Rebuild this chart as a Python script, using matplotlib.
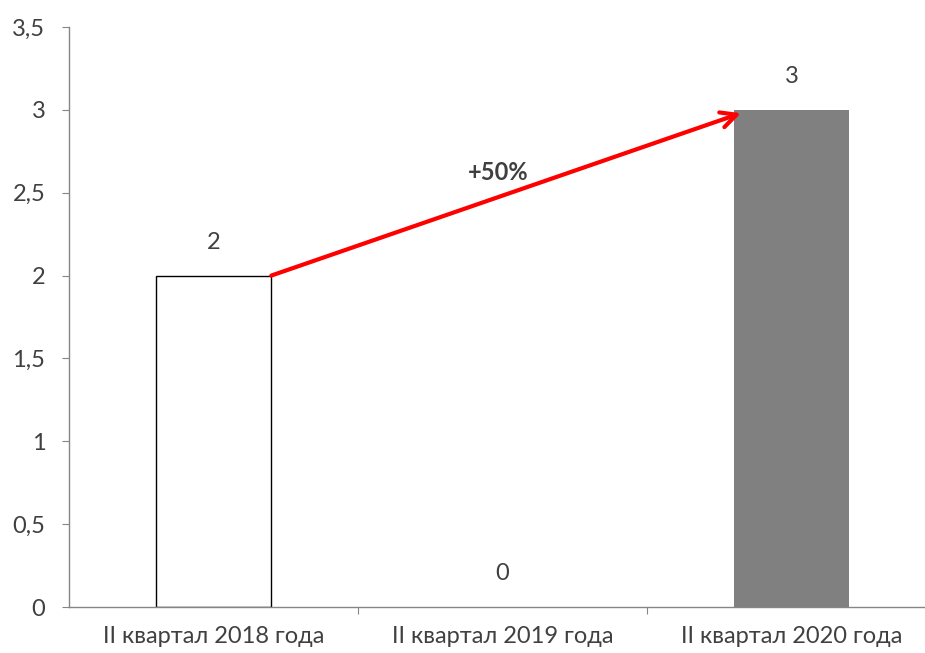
import matplotlib.pyplot as plt

plt.rcParams["font.family"] = ["Lato", "DejaVu Sans"]

# данные
categories = ["II квартал 2018 года", "II квартал 2019 года", "II квартал 2020 года"]
values = [2, 0, 3]
growth_label = "+50%"
y_ticks = [0, 0.5, 1, 1.5, 2, 2.5, 3, 3.5]
y_tick_labels = ["0", "0,5", "1", "1,5", "2", "2,5", "3", "3,5"]

text_color = "#404040"
axis_color = "#868686"
fs = 17

fig = plt.figure(figsize=(9.25, 6.53), dpi=100)
# правая граница оси выходит за пределы картинки, как в исходнике
ax = fig.add_axes([69 / 925, 1 - 607 / 653, 867 / 925, 580 / 653])

x = list(range(len(categories)))
bar_w = 0.4
ax.bar(x[0], values[0], width=bar_w, color="white", edgecolor="black", linewidth=1.0)
ax.bar(x[2], values[2], width=bar_w, color="#808080", edgecolor="none")

# подписи значений
for xi, v in zip(x, values):
    ax.text(xi, v + 0.2, str(v), ha="center", va="center", fontsize=fs, color=text_color)

# стрелка роста
ax.annotate("", xy=(x[2] - bar_w / 2 + 0.025, values[2] - 0.02),
            xytext=(x[0] + bar_w / 2, values[0]),
            arrowprops=dict(arrowstyle="->", color="red", lw=3,
                            mutation_scale=28, shrinkA=0, shrinkB=0))
ax.text(0.985, 2.62, growth_label, ha="center", va="center", fontsize=fs,
        fontweight="bold", color=text_color)

ax.set_xlim(-0.5, 2.5)
ax.set_ylim(0, 3.5)
ax.set_yticks(y_ticks)
ax.set_yticklabels(y_tick_labels)
ax.set_xticks([0.5, 1.5, 2.5])
ax.set_xticklabels([])
ax.set_xticks(x, minor=True)
ax.set_xticklabels(categories, minor=True)
ax.tick_params(axis="x", which="minor", length=0, pad=14, labelsize=fs, labelcolor=text_color)
ax.tick_params(axis="x", which="major", length=5, color=axis_color)
ax.tick_params(axis="y", length=5, color=axis_color, labelsize=fs, labelcolor=text_color, pad=12)

for side in ["top", "right"]:
    ax.spines[side].set_visible(False)
for side in ["left", "bottom"]:
    ax.spines[side].set_color(axis_color)
    ax.spines[side].set_linewidth(1.0)

fig.savefig("out.png", dpi=100)
